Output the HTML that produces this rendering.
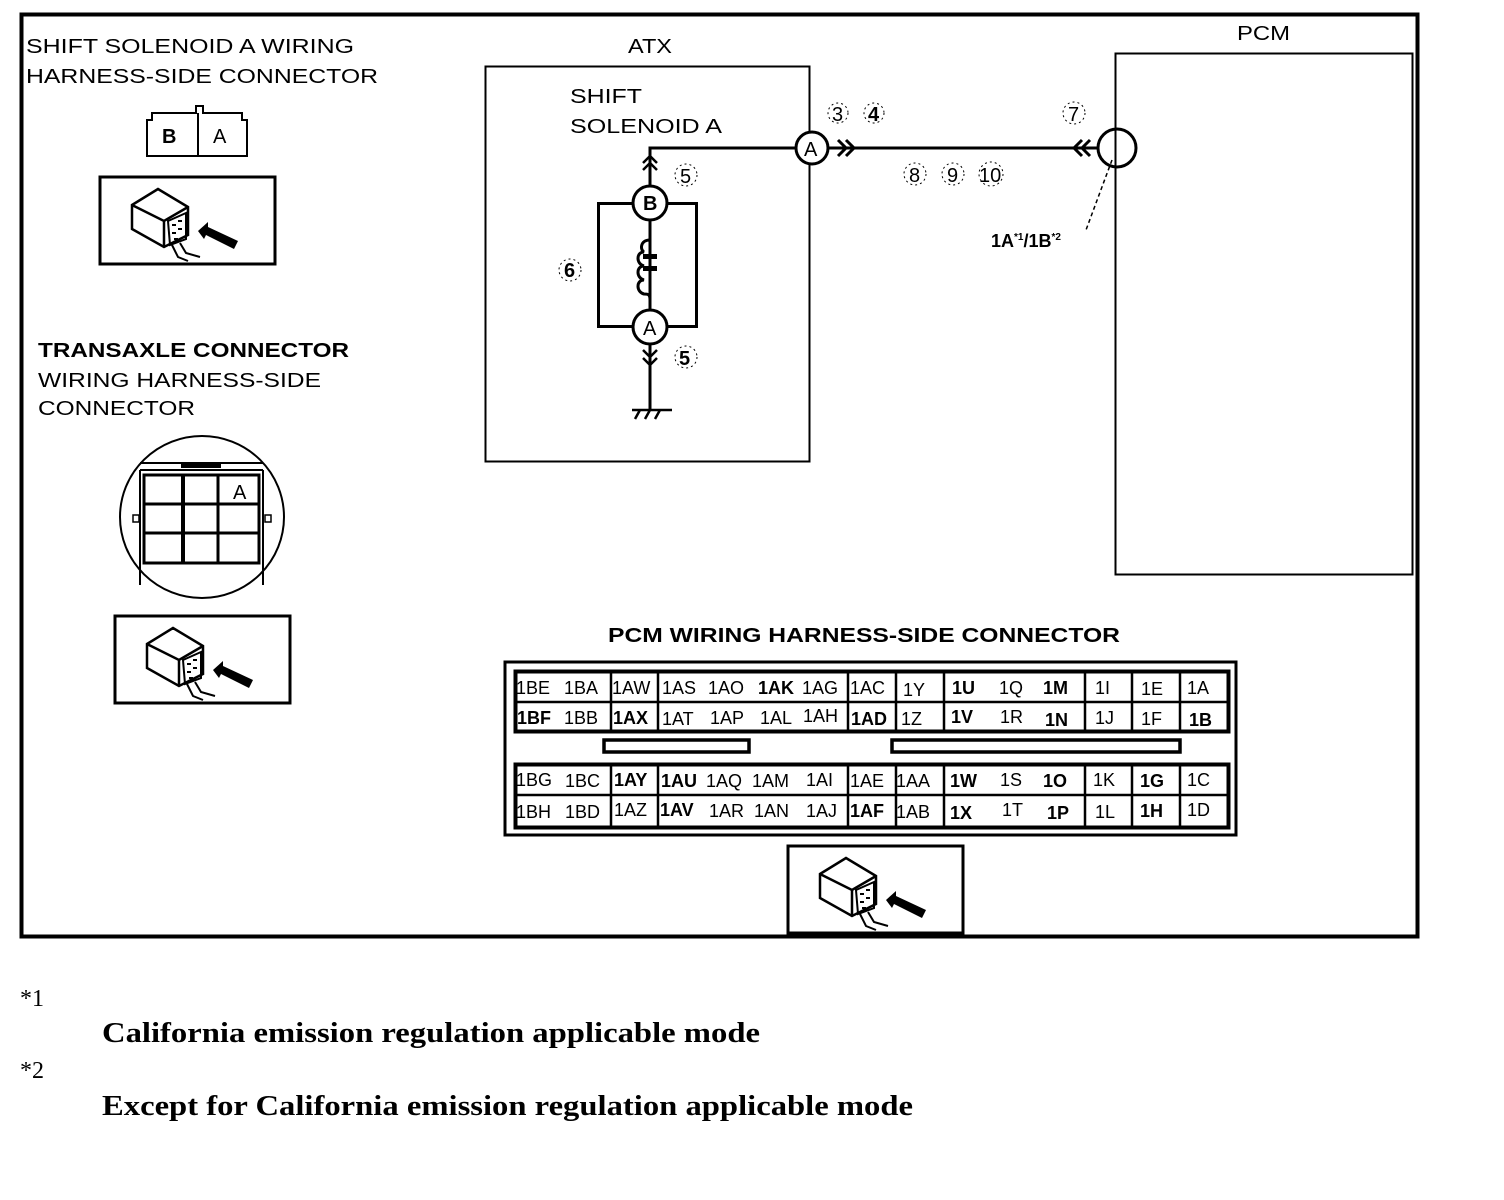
<!DOCTYPE html>
<html><head><meta charset="utf-8"><style>
html,body{margin:0;padding:0;background:#fff;width:1504px;height:1200px;overflow:hidden}
svg{display:block}
.t{font-family:"Liberation Sans",sans-serif;font-size:20px;fill:#000}
.c{font-family:"Liberation Sans",sans-serif;font-size:18px;fill:#000}
.s{font-family:"Liberation Serif",serif;fill:#000}
</style></head><body>
<svg width="1504" height="1200" viewBox="0 0 1504 1200" xmlns="http://www.w3.org/2000/svg">
<defs>
<g id="icon">
  <rect x="0" y="0" width="175" height="87" fill="#fff" stroke="#000" stroke-width="3"/>
  <path d="M32 28 L58 12 L88 30 L88 58 L64 70 L32 52 Z M32 28 L64 44 L88 30 M64 44 L64 70" fill="#fff" stroke="#000" stroke-width="2.5"/>
  <path d="M68 44 L86 36 L86 62 L70 68 Z" fill="none" stroke="#000" stroke-width="2"/>
  <path d="M72 48 l4 0 M78 44 l4 0 M72 56 l4 0 M78 52 l4 0 M74 62 l4 0" stroke="#000" stroke-width="2"/>
  <path d="M72 68 L78 80 L88 84 M80 66 L86 76 L100 80" stroke="#000" stroke-width="2" fill="none"/>
  <path d="M98 54 L108 45 L108 50 L138 64 L134 72 L106 58 L104 62 Z" fill="#000"/>
</g>
</defs>
<rect x="21.5" y="14.5" width="1396" height="922" fill="none" stroke="#000" stroke-width="4"/>

<text class="t" x="26" y="53" textLength="328" lengthAdjust="spacingAndGlyphs">SHIFT SOLENOID A WIRING</text>
<text class="t" x="26" y="83" textLength="352" lengthAdjust="spacingAndGlyphs">HARNESS-SIDE CONNECTOR</text>
<path d="M147 156 L147 120 L152 120 L152 113 L196 113 L196 106 L203 106 L203 113 L242 113 L242 120 L247 120 L247 156 Z M198 113 L198 156" fill="none" stroke="#000" stroke-width="2"/>
<text class="t" x="162" y="143" font-weight="bold">B</text>
<text class="t" x="213" y="143">A</text>
<use href="#icon" x="100" y="177"/>

<text class="t" x="38" y="357" font-weight="bold" textLength="311" lengthAdjust="spacingAndGlyphs">TRANSAXLE CONNECTOR</text>
<text class="t" x="38" y="387" textLength="283" lengthAdjust="spacingAndGlyphs">WIRING HARNESS-SIDE</text>
<text class="t" x="38" y="415" textLength="157" lengthAdjust="spacingAndGlyphs">CONNECTOR</text>
<ellipse cx="202" cy="517" rx="82" ry="81" fill="none" stroke="#000" stroke-width="2"/>
<path d="M140 470 L140 585 M263 470 L263 585 M140 470 L263 470 M140 463 L263 463" stroke="#000" stroke-width="2" fill="none"/>
<rect x="181" y="462" width="40" height="6" fill="#000"/>
<rect x="144" y="475" width="115" height="88" fill="none" stroke="#000" stroke-width="3"/>
<path d="M183 475 V563 M218 475 V563 M144 504 H259 M144 533 H259" stroke="#000" stroke-width="3"/>
<path d="M183 475 V563" stroke="#000" stroke-width="4"/>
<rect x="133" y="515" width="6" height="7" fill="#fff" stroke="#000" stroke-width="1.5"/>
<rect x="265" y="515" width="6" height="7" fill="#fff" stroke="#000" stroke-width="1.5"/>
<text class="t" x="233" y="499">A</text>
<use href="#icon" x="115" y="616"/>

<text class="t" x="628" y="53" textLength="44" lengthAdjust="spacingAndGlyphs">ATX</text>
<rect x="485.5" y="66.5" width="324" height="395" fill="none" stroke="#000" stroke-width="2"/>
<text class="t" x="570" y="103" textLength="72" lengthAdjust="spacingAndGlyphs">SHIFT</text>
<text class="t" x="570" y="133" textLength="152" lengthAdjust="spacingAndGlyphs">SOLENOID A</text>
<path d="M650 410 V148 H795 M828 148 H1098" stroke="#000" stroke-width="3" fill="none"/>
<circle cx="812" cy="148" r="16" fill="#fff" stroke="#000" stroke-width="3"/>
<text class="t" x="804" y="156">A</text>
<path d="M838 140 l8 8 l-8 8 M846 140 l8 8 l-8 8" stroke="#000" stroke-width="3" fill="none"/>
<path d="M1082 140 l-8 8 l8 8 M1090 140 l-8 8 l8 8" stroke="#000" stroke-width="3" fill="none"/>
<circle cx="1117" cy="148" r="19" fill="#fff" stroke="#000" stroke-width="3"/>
<path d="M1112 160 L1086 230" stroke="#000" stroke-width="1.5" stroke-dasharray="4 3"/>
<text class="c" x="991" y="247" font-weight="bold" font-size="16">1A<tspan dy="-7" font-size="10">*1</tspan><tspan dy="7">/1B</tspan><tspan dy="-7" font-size="10">*2</tspan></text>
<text class="t" x="832" y="121">3</text><text class="t" x="868" y="121" font-weight="bold">4</text>
<circle cx="838" cy="113" r="10" fill="none" stroke="#000" stroke-dasharray="2 3"/>
<circle cx="874" cy="113" r="10" fill="none" stroke="#000" stroke-dasharray="2 3"/>
<text class="t" x="1068" y="121">7</text>
<circle cx="1074" cy="113" r="11" fill="none" stroke="#000" stroke-dasharray="2 3"/>
<text class="t" x="909" y="182">8</text><text class="t" x="947" y="182">9</text><text class="t" x="979" y="182" font-size="19">10</text>
<circle cx="915" cy="174" r="11" fill="none" stroke="#000" stroke-dasharray="2 3"/>
<circle cx="953" cy="174" r="11" fill="none" stroke="#000" stroke-dasharray="2 3"/>
<circle cx="991" cy="174" r="12" fill="none" stroke="#000" stroke-dasharray="2 3"/>
<path d="M643 163 l7 -7 l7 7 M643 170 l7 -7 l7 7" stroke="#000" stroke-width="2.5" fill="none"/>
<text class="t" x="680" y="183">5</text>
<circle cx="686" cy="175" r="11" fill="none" stroke="#000" stroke-dasharray="2 3"/>
<rect x="598.5" y="203.5" width="98" height="123" fill="none" stroke="#000" stroke-width="3"/>
<path d="M650 220 V240 M650 300 V315" stroke="#000" stroke-width="2"/>
<path d="M650 240 c-10 0 -10 10 -6 12 c-8 0 -8 12 0 14 c-8 0 -8 12 0 14 c-8 0 -8 12 0 14 c4 0 6 0 6 6" fill="none" stroke="#000" stroke-width="3"/>
<rect x="643" y="254" width="14" height="5" fill="#000"/>
<rect x="643" y="266" width="14" height="5" fill="#000"/>
<circle cx="650" cy="203" r="17" fill="#fff" stroke="#000" stroke-width="3"/>
<text class="t" x="643" y="210" font-weight="bold">B</text>
<circle cx="650" cy="327" r="17" fill="#fff" stroke="#000" stroke-width="3"/>
<text class="t" x="643" y="335">A</text>
<path d="M643 350 l7 7 l7 -7 M643 358 l7 7 l7 -7" stroke="#000" stroke-width="2.5" fill="none"/>
<text class="t" x="679" y="365" font-weight="bold">5</text>
<circle cx="686" cy="357" r="11" fill="none" stroke="#000" stroke-dasharray="2 3"/>
<text class="t" x="564" y="277" font-weight="bold">6</text>
<circle cx="570" cy="270" r="11" fill="none" stroke="#000" stroke-dasharray="2 3"/>
<path d="M632 410 H672 M640 410 l-5 9 M650 410 l-5 9 M660 410 l-5 9" stroke="#000" stroke-width="2.5"/>

<text class="t" x="1237" y="40" textLength="53" lengthAdjust="spacingAndGlyphs">PCM</text>
<rect x="1115.5" y="53.5" width="297" height="521" fill="none" stroke="#000" stroke-width="2"/>

<text class="t" x="608" y="642" font-weight="bold" textLength="512" lengthAdjust="spacingAndGlyphs">PCM WIRING HARNESS-SIDE CONNECTOR</text>
<rect x="505" y="662" width="731" height="173" fill="none" stroke="#000" stroke-width="3"/>
<rect x="515.5" y="671.5" width="713" height="60" fill="none" stroke="#000" stroke-width="4"/>
<rect x="515.5" y="764.5" width="713" height="63" fill="none" stroke="#000" stroke-width="4"/>
<path d="M515 702 H1229 M515 795 H1229" stroke="#000" stroke-width="2.5"/>
<path d="M611 672 V731 M658 672 V731 M848 672 V731 M896 672 V731 M944 672 V731 M1085 672 V731 M1132 672 V731 M1180 672 V731" stroke="#000" stroke-width="2.5"/>
<path d="M611 765 V827 M658 765 V827 M848 765 V827 M896 765 V827 M944 765 V827 M1085 765 V827 M1132 765 V827 M1180 765 V827" stroke="#000" stroke-width="2.5"/>
<rect x="604" y="740" width="145" height="12" fill="none" stroke="#000" stroke-width="3.5"/>
<rect x="892" y="740" width="288" height="12" fill="none" stroke="#000" stroke-width="3.5"/>
<g class="c">
<text x="516" y="694">1BE</text><text x="564" y="694">1BA</text><text x="612" y="694">1AW</text><text x="662" y="694">1AS</text><text x="708" y="694">1AO</text><text x="758" y="694" font-weight="bold">1AK</text><text x="802" y="694">1AG</text><text x="850" y="694">1AC</text><text x="903" y="696">1Y</text><text x="952" y="694" font-weight="bold">1U</text><text x="999" y="694">1Q</text><text x="1043" y="694" font-weight="bold">1M</text><text x="1095" y="694">1I</text><text x="1141" y="695">1E</text><text x="1187" y="694">1A</text>
<text x="517" y="724" font-weight="bold">1BF</text><text x="564" y="724">1BB</text><text x="613" y="724" font-weight="bold">1AX</text><text x="662" y="725">1AT</text><text x="710" y="724">1AP</text><text x="760" y="724">1AL</text><text x="803" y="722">1AH</text><text x="851" y="725" font-weight="bold">1AD</text><text x="901" y="725">1Z</text><text x="951" y="723" font-weight="bold">1V</text><text x="1000" y="723">1R</text><text x="1045" y="726" font-weight="bold">1N</text><text x="1095" y="724">1J</text><text x="1141" y="725">1F</text><text x="1189" y="726" font-weight="bold">1B</text>
<text x="516" y="786">1BG</text><text x="565" y="787">1BC</text><text x="614" y="786" font-weight="bold">1AY</text><text x="661" y="787" font-weight="bold">1AU</text><text x="706" y="787">1AQ</text><text x="752" y="787">1AM</text><text x="806" y="786">1AI</text><text x="850" y="787">1AE</text><text x="896" y="787">1AA</text><text x="950" y="787" font-weight="bold">1W</text><text x="1000" y="786">1S</text><text x="1043" y="787" font-weight="bold">1O</text><text x="1093" y="786">1K</text><text x="1140" y="787" font-weight="bold">1G</text><text x="1187" y="786">1C</text>
<text x="516" y="818">1BH</text><text x="565" y="818">1BD</text><text x="614" y="816">1AZ</text><text x="660" y="816" font-weight="bold">1AV</text><text x="709" y="817">1AR</text><text x="754" y="817">1AN</text><text x="806" y="817">1AJ</text><text x="850" y="817" font-weight="bold">1AF</text><text x="896" y="818">1AB</text><text x="950" y="819" font-weight="bold">1X</text><text x="1002" y="816">1T</text><text x="1047" y="819" font-weight="bold">1P</text><text x="1095" y="818">1L</text><text x="1140" y="817" font-weight="bold">1H</text><text x="1187" y="816">1D</text>
</g>
<use href="#icon" x="788" y="846"/>

<text class="s" x="20" y="1006" font-size="24">*1</text>
<text class="s" x="102" y="1042" font-size="28" font-weight="bold" textLength="658" lengthAdjust="spacingAndGlyphs">California emission regulation applicable mode</text>
<text class="s" x="20" y="1078" font-size="24">*2</text>
<text class="s" x="102" y="1115" font-size="28" font-weight="bold" textLength="811" lengthAdjust="spacingAndGlyphs">Except for California emission regulation applicable mode</text>
</svg>
</body></html>
